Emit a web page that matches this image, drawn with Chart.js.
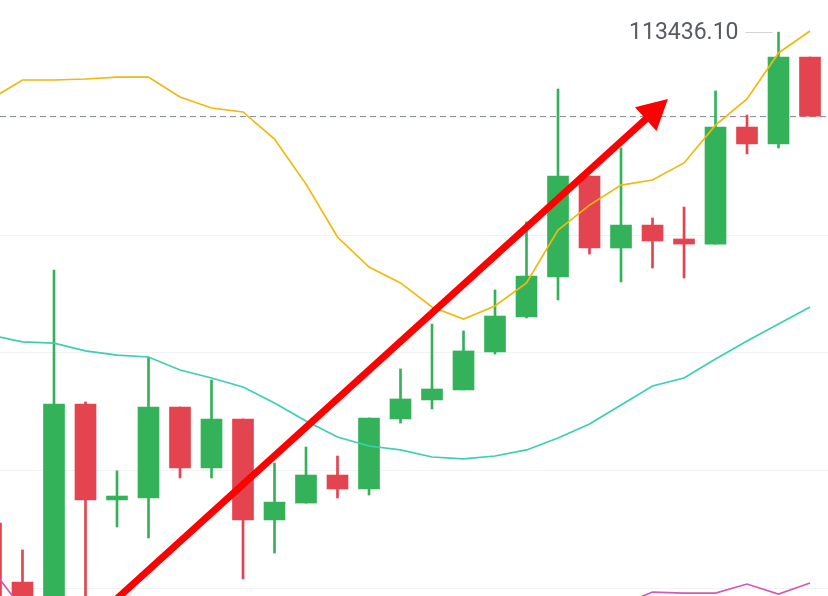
<!DOCTYPE html>
<html>
<head>
<meta charset="utf-8">
<script src="https://cdn.jsdelivr.net/npm/chart.js@4.4.1/dist/chart.umd.min.js"></script>
<style>
  html, body { margin: 0; padding: 0; background: #fff; }
  #wrap { width: 828px; height: 596px; position: relative; }
</style>
</head>
<body>
<div id="wrap"><canvas id="klineChart"></canvas></div>
<script>
// candle index (first one is partly off the left edge)
const candleIdx = [-1, 0, 1, 2, 3, 4, 5, 6, 7, 8, 9, 10, 11, 12, 13, 14, 15, 16, 17, 18, 19, 20, 21, 22, 23, 24, 25];
const opens  = [110932, 110631, 110336, 111539, 111050, 111060, 111524, 111213, 111463, 110948, 111034, 111177, 111106, 111463, 111560, 111611, 111805, 111983, 112187, 112702, 112335, 112452, 112381, 112355, 112952, 112866, 113309];
const highs  = [110932, 110795, 112223, 111550, 111198, 111779, 111524, 111662, 111463, 111238, 111320, 111274, 111468, 111718, 111947, 111912, 112121, 112468, 113146, 112702, 112845, 112488, 112544, 113136, 113013, 113436.1, 113309];
const lows   = [110300, 110412, 110285, 110387, 110912, 110856, 111162, 111162, 110647, 110779, 111034, 111060, 111075, 111442, 111514, 111611, 111794, 111978, 112070, 112304, 112162, 112233, 112182, 112355, 112815, 112845, 113008];
const closes = [110400, 110489, 111539, 111050, 111070, 111524, 111213, 111463, 110948, 111039, 111177, 111106, 111468, 111565, 111616, 111810, 111988, 112192, 112702, 112335, 112452, 112371, 112355, 112952, 112866, 113309, 113008];

// moving average lines
const maYellow = [113095, 113192, 113192, 113197, 113207, 113207, 113105, 113049, 113029, 112891, 112661, 112391, 112238, 112157, 112034, 111973, 112039, 112157, 112427, 112554, 112656, 112682, 112769, 112962, 113095, 113330, 113442];
const maTeal   = [111891, 111856, 111850, 111810, 111789, 111779, 111713, 111672, 111626, 111544, 111453, 111371, 111325, 111305, 111269, 111259, 111274, 111305, 111366, 111437, 111534, 111631, 111672, 111769, 111861, 111947, 112034];
const maPink   = [110703, 110494, 110440, 110410, 110390, 110380, 110370, 110360, 110350, 110350, 110360, 110370, 110380, 110400, 110420, 110440, 110460, 110480, 110490, 110500, 110514, 110580, 110575, 110575, 110621, 110570, 110626];

// horizontal grid values
const gridValues = [110600, 111200, 111800, 112400, 113000];

// trend arrow: [candle index, price]
const arrowFrom = [2.46, 110468];
const arrowTo   = [20.49, 113095];

const UP = '#33b25a';
const DOWN = '#e4444f';

function candleColor(i) {
  return closes[i] >= opens[i] ? UP : DOWN;
}

const wickData = candleIdx.map((x, i) => ({ x: x, y: [lows[i], highs[i]] }));
const bodyData = candleIdx.map((x, i) => ({ x: x, y: [opens[i], closes[i]] }));
const colors = candleIdx.map((x, i) => candleColor(i));

function linePoints(arr) {
  return candleIdx.map((x, i) => ({ x: x, y: arr[i] }));
}

// draws last price dashed line, high label and the red arrow
const overlayPlugin = {
  id: 'overlay',
  beforeDatasetsDraw(chart) {
    const ctx = chart.ctx;
    const ys = chart.scales.y;
    const area = chart.chartArea;
    // last close dashed line
    const yLast = Math.round(ys.getPixelForValue(closes[closes.length - 1])) + 0.5;
    ctx.save();
    ctx.strokeStyle = '#8e949e';
    ctx.lineWidth = 1;
    ctx.setLineDash([6, 4]);
    ctx.beginPath();
    ctx.moveTo(area.left, yLast);
    ctx.lineTo(area.right, yLast);
    ctx.stroke();
    ctx.restore();
  },
  afterDatasetsDraw(chart) {
    const ctx = chart.ctx;
    const xs = chart.scales.x, ys = chart.scales.y;

    // highest high label
    let hi = 0;
    highs.forEach((h, i) => { if (h > highs[hi]) hi = i; });
    const hx = xs.getPixelForValue(candleIdx[hi]);
    const hy = Math.round(ys.getPixelForValue(highs[hi]));
    ctx.save();
    ctx.strokeStyle = '#d0d3d8';
    ctx.lineWidth = 1;
    ctx.beginPath();
    ctx.moveTo(hx - 33, hy + 0.5);
    ctx.lineTo(hx - 6, hy + 0.5);
    ctx.stroke();
    ctx.fillStyle = '#575b61';
    ctx.font = '23px Roboto, "Noto Sans", sans-serif';
    ctx.textAlign = 'right';
    ctx.textBaseline = 'middle';
    ctx.fillText(highs[hi].toFixed(2), hx - 40, hy + 1);
    ctx.restore();

    // trend arrow
    const x1 = xs.getPixelForValue(arrowFrom[0]), y1 = ys.getPixelForValue(arrowFrom[1]);
    const x2 = xs.getPixelForValue(arrowTo[0]), y2 = ys.getPixelForValue(arrowTo[1]);
    const ang = Math.atan2(y2 - y1, x2 - x1);
    const headLen = 30, headHalf = 16;
    const bx = x2 - headLen * Math.cos(ang), by = y2 - headLen * Math.sin(ang);
    ctx.save();
    ctx.strokeStyle = '#fe0000';
    ctx.fillStyle = '#fe0000';
    ctx.lineWidth = 7;
    ctx.beginPath();
    ctx.moveTo(x1, y1);
    ctx.lineTo(bx + 2 * Math.cos(ang), by + 2 * Math.sin(ang));
    ctx.stroke();
    ctx.beginPath();
    ctx.moveTo(x2, y2);
    ctx.lineTo(bx + headHalf * Math.sin(ang), by - headHalf * Math.cos(ang));
    ctx.lineTo(bx - headHalf * Math.sin(ang), by + headHalf * Math.cos(ang));
    ctx.closePath();
    ctx.fill();
    ctx.restore();
  }
};

const ctx = document.getElementById('klineChart').getContext('2d');
const klineChart = new Chart(ctx, {
  type: 'bar',
  data: {
    datasets: [
      {
        type: 'line',
        data: linePoints(maYellow),
        borderColor: '#f0b90b',
        borderWidth: 1.7,
        pointRadius: 0,
        order: 0
      },
      {
        type: 'line',
        data: linePoints(maTeal),
        borderColor: '#3ccfb1',
        borderWidth: 1.7,
        pointRadius: 0,
        order: 0
      },
      {
        type: 'line',
        data: linePoints(maPink),
        borderColor: '#d358b8',
        borderWidth: 1.7,
        pointRadius: 0,
        order: 0
      },
      {
        data: wickData,
        backgroundColor: colors,
        barThickness: 2,
        grouped: false,
        order: 2
      },
      {
        data: bodyData,
        backgroundColor: colors,
        barThickness: 21,
        grouped: false,
        borderSkipped: false,
        order: 1
      }
    ]
  },
  options: {
    responsive: true,
    maintainAspectRatio: false,
    animation: false,
    layout: { padding: 0 },
    plugins: {
      legend: { display: false },
      tooltip: { enabled: false }
    },
    scales: {
      x: {
        type: 'linear',
        display: false,
        offset: false,
        min: -0.714,
        max: 25.571
      },
      y: {
        type: 'linear',
        min: 110560,
        max: 113600,
        border: { display: false },
        grid: { color: '#f1f2f4', drawTicks: false },
        ticks: { display: false },
        afterBuildTicks: function(scale) {
          scale.ticks = gridValues.map(v => ({ value: v }));
        }
      }
    }
  },
  plugins: [overlayPlugin]
});
</script>
</body>
</html>
